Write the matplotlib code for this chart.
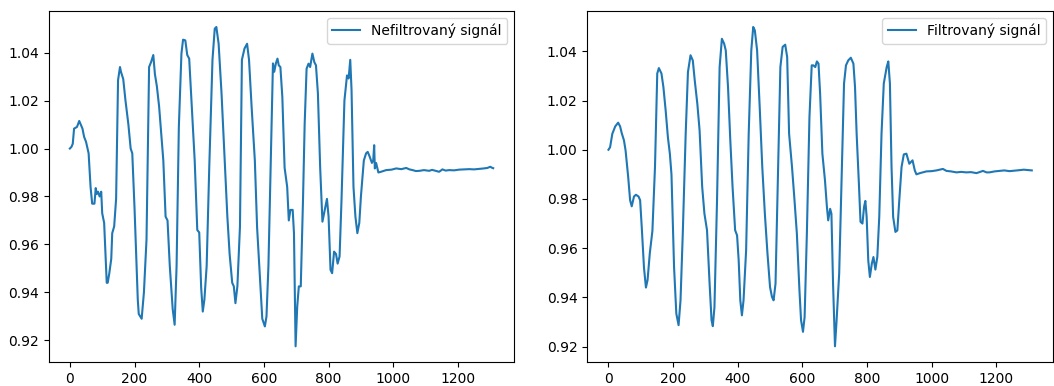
import matplotlib
matplotlib.use("Agg")
import matplotlib.pyplot as plt

# Unfiltered signal (sample index, value)
raw_x = [0, 5, 9, 13, 22, 29, 39, 44, 50, 58, 64, 69, 76, 80, 83, 87, 92, 97, 100, 106,
         114, 117, 122, 128, 131, 137, 143, 149, 155, 158, 165, 172, 181, 188, 193, 200,
         210, 213, 222, 229, 237, 245, 251, 258, 263, 269, 276, 289, 296, 302, 309, 318,
         324, 330, 337, 345, 350, 357, 363, 369, 376, 386, 394, 400, 406, 411, 416, 423,
         431, 441, 448, 453, 460, 469, 480, 487, 494, 502, 507, 512, 518, 526, 532, 540,
         548, 554, 562, 572, 579, 587, 595, 603, 608, 614, 623, 628, 632, 637, 642, 646,
         651, 657, 664, 672, 677, 682, 689, 693, 698, 703, 708, 714, 721, 726, 732, 738,
         743, 750, 756, 761, 767, 774, 781, 789, 795, 800, 806, 811, 817, 823, 828, 834,
         840, 849, 857, 862, 867, 871, 877, 883, 889, 895, 900, 909, 916, 921, 926, 934,
         938, 941, 943, 947, 954, 962, 978, 995, 1009, 1025, 1040, 1050, 1060, 1070, 1081,
         1095, 1111, 1120, 1131, 1142, 1152, 1162, 1173, 1188, 1204, 1220, 1235, 1250,
         1266, 1280, 1291, 1300, 1305, 1309]
raw_y = [1.0000, 1.0007, 1.0020, 1.0083, 1.0090, 1.0115, 1.0083, 1.0049, 1.0028, 0.9980,
         0.9840, 0.9770, 0.9770, 0.9835, 0.9810, 0.9820, 0.9800, 0.9820, 0.9730, 0.9690,
         0.9440, 0.9440, 0.9480, 0.9540, 0.9647, 0.9675, 0.9790, 1.0285, 1.0340, 1.0320,
         1.0290, 1.0200, 1.0100, 1.0000, 0.9980, 0.9750, 0.9370, 0.9310, 0.9290, 0.9400,
         0.9620, 1.0340, 1.0360, 1.0390, 1.0310, 1.0260, 1.0175, 0.9950, 0.9716, 0.9700,
         0.9510, 0.9330, 0.9265, 0.9510, 1.0090, 1.0396, 1.0454, 1.0451, 1.0390, 1.0375,
         1.0200, 0.9950, 0.9660, 0.9650, 0.9420, 0.9320, 0.9370, 0.9510, 0.9920, 1.0370,
         1.0500, 1.0507, 1.0437, 1.0230, 0.9920, 0.9716, 0.9560, 0.9440, 0.9425, 0.9355,
         0.9425, 0.9675, 1.0370, 1.0417, 1.0437, 1.0370, 1.0174, 0.9950, 0.9670, 0.9480,
         0.9290, 0.9258, 0.9300, 0.9510, 1.0062, 1.0355, 1.0320, 1.0355, 1.0375, 1.0347,
         1.0340, 1.0215, 0.9920, 0.9840, 0.9700, 0.9744, 0.9744, 0.9647, 0.9175, 0.9340,
         0.9425, 0.9425, 0.9790, 1.0100, 1.0333, 1.0354, 1.0340, 1.0396, 1.0360, 1.0347,
         1.0230, 0.9920, 0.9695, 0.9750, 0.9790, 0.9716, 0.9494, 0.9480, 0.9570, 0.9560,
         0.9520, 0.9550, 0.9786, 1.0200, 1.0305, 1.0292, 1.0370, 1.0245, 0.9840, 0.9716,
         0.9647, 0.9690, 0.9800, 0.9950, 0.9980, 0.9986, 0.9970, 0.9940, 0.9950, 1.0014,
         0.9917, 0.9940, 0.9900, 0.9903, 0.9910, 0.9912, 0.9917, 0.9914, 0.9919, 0.9913,
         0.9910, 0.9906, 0.9907, 0.9910, 0.9907, 0.9911, 0.9907, 0.9903, 0.9913, 0.9908,
         0.9910, 0.9909, 0.9912, 0.9913, 0.9914, 0.9913, 0.9915, 0.9917, 0.9919, 0.9924,
         0.9920, 0.9918]

# Filtered signal (sample index, value)
filt_x = [0, 5, 12, 21, 30, 36, 41, 48, 53, 61, 67, 72, 79, 85, 93, 98, 103, 110, 116,
          121, 128, 136, 144, 151, 156, 164, 170, 177, 184, 190, 195, 203, 210, 217, 223,
          230, 239, 246, 254, 261, 267, 275, 282, 290, 297, 305, 313, 319, 323, 328, 336,
          344, 351, 358, 363, 370, 377, 384, 392, 398, 403, 408, 413, 418, 426, 434, 442,
          448, 453, 460, 468, 476, 484, 492, 500, 506, 511, 517, 524, 532, 539, 547, 553,
          559, 568, 575, 583, 591, 596, 602, 607, 614, 622, 629, 634, 640, 645, 650, 655,
          662, 670, 676, 680, 686, 690, 695, 701, 706, 714, 722, 729, 735, 742, 750, 758,
          763, 768, 775, 780, 786, 791, 795, 799, 804, 809, 815, 820, 826, 832, 838, 845,
          852, 861, 866, 871, 876, 881, 888, 894, 900, 907, 914, 922, 931, 936, 941, 948,
          953, 964, 984, 1000, 1015, 1035, 1046, 1060, 1077, 1092, 1107, 1122, 1139, 1150,
          1159, 1170, 1179, 1195, 1210, 1225, 1241, 1257, 1272, 1285, 1293, 1302, 1310]
filt_y = [1.0000, 1.0010, 1.0065, 1.0095, 1.0110, 1.0095, 1.0068, 1.0038, 0.9997, 0.9890,
          0.9795, 0.9770, 0.9810, 0.9817, 0.9810, 0.9795, 0.9686, 0.9520, 0.9440, 0.9470,
          0.9580, 0.9670, 0.9930, 1.0310, 1.0332, 1.0310, 1.0255, 1.0160, 1.0050, 0.9984,
          0.9900, 0.9524, 0.9334, 0.9287, 0.9388, 0.9660, 1.0065, 1.0316, 1.0384, 1.0363,
          1.0282, 1.0187, 1.0079, 0.9850, 0.9740, 0.9673, 0.9456, 0.9307, 0.9283, 0.9360,
          0.9795, 1.0336, 1.0451, 1.0431, 1.0404, 1.0255, 1.0040, 0.9850, 0.9673, 0.9652,
          0.9550, 0.9388, 0.9327, 0.9388, 0.9591, 1.0065, 1.0404, 1.0499, 1.0485, 1.0404,
          1.0174, 0.9930, 0.9740, 0.9580, 0.9442, 0.9402, 0.9388, 0.9456, 0.9862, 1.0336,
          1.0418, 1.0427, 1.0377, 1.0065, 0.9930, 0.9808, 0.9660, 0.9430, 0.9307, 0.9260,
          0.9320, 0.9660, 1.0133, 1.0343, 1.0343, 1.0336, 1.0359, 1.0350, 1.0228, 0.9984,
          0.9876, 0.9768, 0.9713, 0.9760, 0.9740, 0.9456, 0.9201, 0.9307, 0.9497, 0.9903,
          1.0269, 1.0343, 1.0363, 1.0374, 1.0350, 1.0255, 1.0065, 0.9862, 0.9707, 0.9700,
          0.9768, 0.9792, 0.9727, 0.9550, 0.9483, 0.9537, 0.9564, 0.9513, 0.9564, 0.9727,
          1.0065, 1.0269, 1.0336, 1.0359, 1.0269, 0.9930, 0.9727, 0.9666, 0.9672, 0.9795,
          0.9930, 0.9981, 0.9984, 0.9943, 0.9950, 0.9957, 0.9916, 0.9900, 0.9905, 0.9912,
          0.9913, 0.9916, 0.9922, 0.9914, 0.9912, 0.9908, 0.9910, 0.9908, 0.9909, 0.9905,
          0.9910, 0.9914, 0.9908, 0.9908, 0.9912, 0.9914, 0.9916, 0.9913, 0.9915, 0.9917,
          0.9919, 0.9918, 0.9917, 0.9916]

label_raw = "Nefiltrovaný signál"
label_filt = "Filtrovaný signál"

fig = plt.figure(figsize=(10.54, 3.86), dpi=100)
ax1 = fig.add_axes([0.0462, 0.0614, 0.4418, 0.9101])
ax2 = fig.add_axes([0.5572, 0.0614, 0.4418, 0.9101])

ax1.plot(raw_x, raw_y, color="#1f77b4", linewidth=1.5, label=label_raw)
ax2.plot(filt_x, filt_y, color="#1f77b4", linewidth=1.5, label=label_filt)

for ax in (ax1, ax2):
    ax.set_xticks([0, 200, 400, 600, 800, 1000, 1200])
    ax.set_yticks([0.92, 0.94, 0.96, 0.98, 1.00, 1.02, 1.04])
    ax.legend(loc="upper right")

fig.savefig("out.png", dpi=100)
